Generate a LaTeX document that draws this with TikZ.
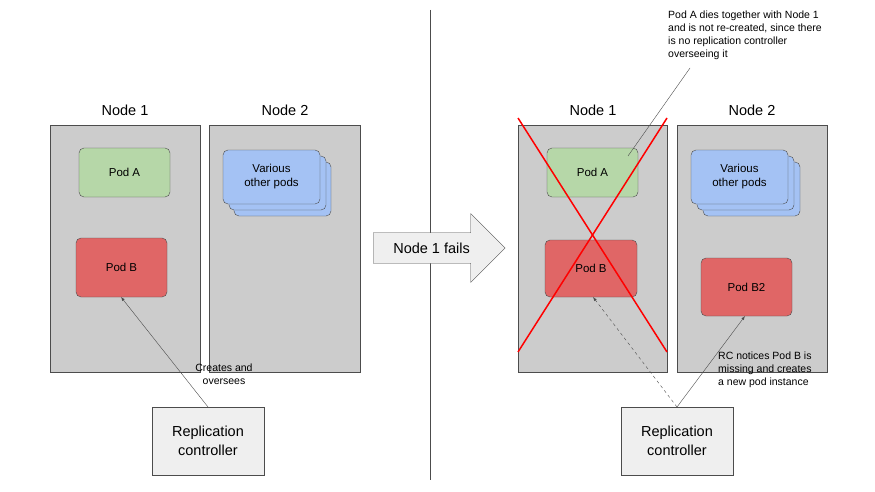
\documentclass[tikz,border=0pt]{standalone}
\usepackage{fontspec}
\setmainfont{Liberation Sans}
\usetikzlibrary{shapes.arrows}
\definecolor{nodegray}{HTML}{CCCCCC}
\definecolor{podgreen}{HTML}{B6D7A8}
\definecolor{podred}{HTML}{E06666}
\definecolor{podblue}{HTML}{A4C2F4}
\definecolor{rcgray}{HTML}{EFEFEF}
\tikzset{
  host/.style={draw=black!70,fill=nodegray},
  pod/.style={draw=black!70,rounded corners=5pt,font=\fontsize{11.5}{14}\selectfont,align=center},
  rc/.style={draw=black!70,fill=rcgray,font=\fontsize{14.5}{19}\selectfont,align=center},
  title/.style={font=\fontsize{14.5}{17}\selectfont},
  note/.style={font=\fontsize{10.5}{13}\selectfont,align=left},
  link/.style={draw=black!70,-latex}
}
\begin{document}
\begin{tikzpicture}[x=1pt,y=-1pt]
\useasboundingbox[fill=white](0,0)rectangle(875,492);
% left half
\draw[host](50,125)rectangle(200,372);
\draw[host](209,125)rectangle(360,372);
\node[title](n1l)at(125,110){Node 1};
\node[title](n2l)at(285,110){Node 2};
\draw[pod,fill=podgreen](79,148)rectangle(170,197)node[midway](podal){Pod A};
\draw[pod,fill=podred](76,238)rectangle(167,297)node[midway](podbl){Pod B};
\coordinate(podbbl)at(121,297);
\draw[pod,fill=podblue](234,162)rectangle(331,216);
\draw[pod,fill=podblue](229,156)rectangle(326,210);
\draw[pod,fill=podblue](223,150)rectangle(320,204)node[midway](otherl){Various\\other pods};
\draw[rc](152,407)rectangle(264,475)node[midway](rcl){Replication\\controller};
\coordinate(rctopl)at(208,407);
\draw[link](rctopl)--(podbbl);
\node[note,align=center](createl)at(224,374){Creates and\\oversees};
% divider
\draw[black!70](430,10)--(430,480);
\node[single arrow,draw=black!70,fill=rcgray,minimum height=132pt,minimum width=69pt,
  single arrow head extend=9.5pt,single arrow tip angle=90,inner sep=2pt,
  font=\fontsize{14.5}{17}\selectfont,anchor=west](fail)
  at(373,248){Node 1 fails\hspace{20pt}};
% right half
\draw[host](518,125)rectangle(667,372);
\draw[host](677,125)rectangle(827,372);
\node[title](n1r)at(593,110){Node 1};
\node[title](n2r)at(752,110){Node 2};
\draw[pod,fill=podgreen](547,148)rectangle(638,197)node[midway](podar){Pod A};
\draw[pod,fill=podred](545,240)rectangle(637,297)node[midway](podbr){Pod B};
\coordinate(podbbr)at(593,297);
\draw[pod,fill=podblue](703,162)rectangle(800,216);
\draw[pod,fill=podblue](697,156)rectangle(794,210);
\draw[pod,fill=podblue](691,150)rectangle(788,204)node[midway](otherr){Various\\other pods};
\draw[pod,fill=podred](701,258)rectangle(792,316)node[midway](podb2){Pod B2};
\coordinate(podb2b)at(745,316);
\draw[red,line width=1.5pt](518,118)--(667,352);
\draw[red,line width=1.5pt](667,118)--(518,352);
\draw[rc](621,407)rectangle(733,475)node[midway](rcr){Replication\\controller};
\coordinate(rctopr)at(677,407);
\draw[link,dashed](rctopr)--(podbbr);
\draw[link](rctopr)--(podb2b);
\node[note,anchor=north west,inner sep=0pt](dies)at(668,11){Pod A dies together with Node 1\\and is not re-created, since there\\is no replication controller\\overseeing it};
\coordinate(diesend)at(690,68);
\coordinate(podatop)at(628,156);
\draw[black!70](diesend)--(podatop);
\node[note,anchor=north west,inner sep=0pt](notice)at(718,352){RC notices Pod B is\\missing and creates\\a new pod instance};
\end{tikzpicture}
\end{document}
